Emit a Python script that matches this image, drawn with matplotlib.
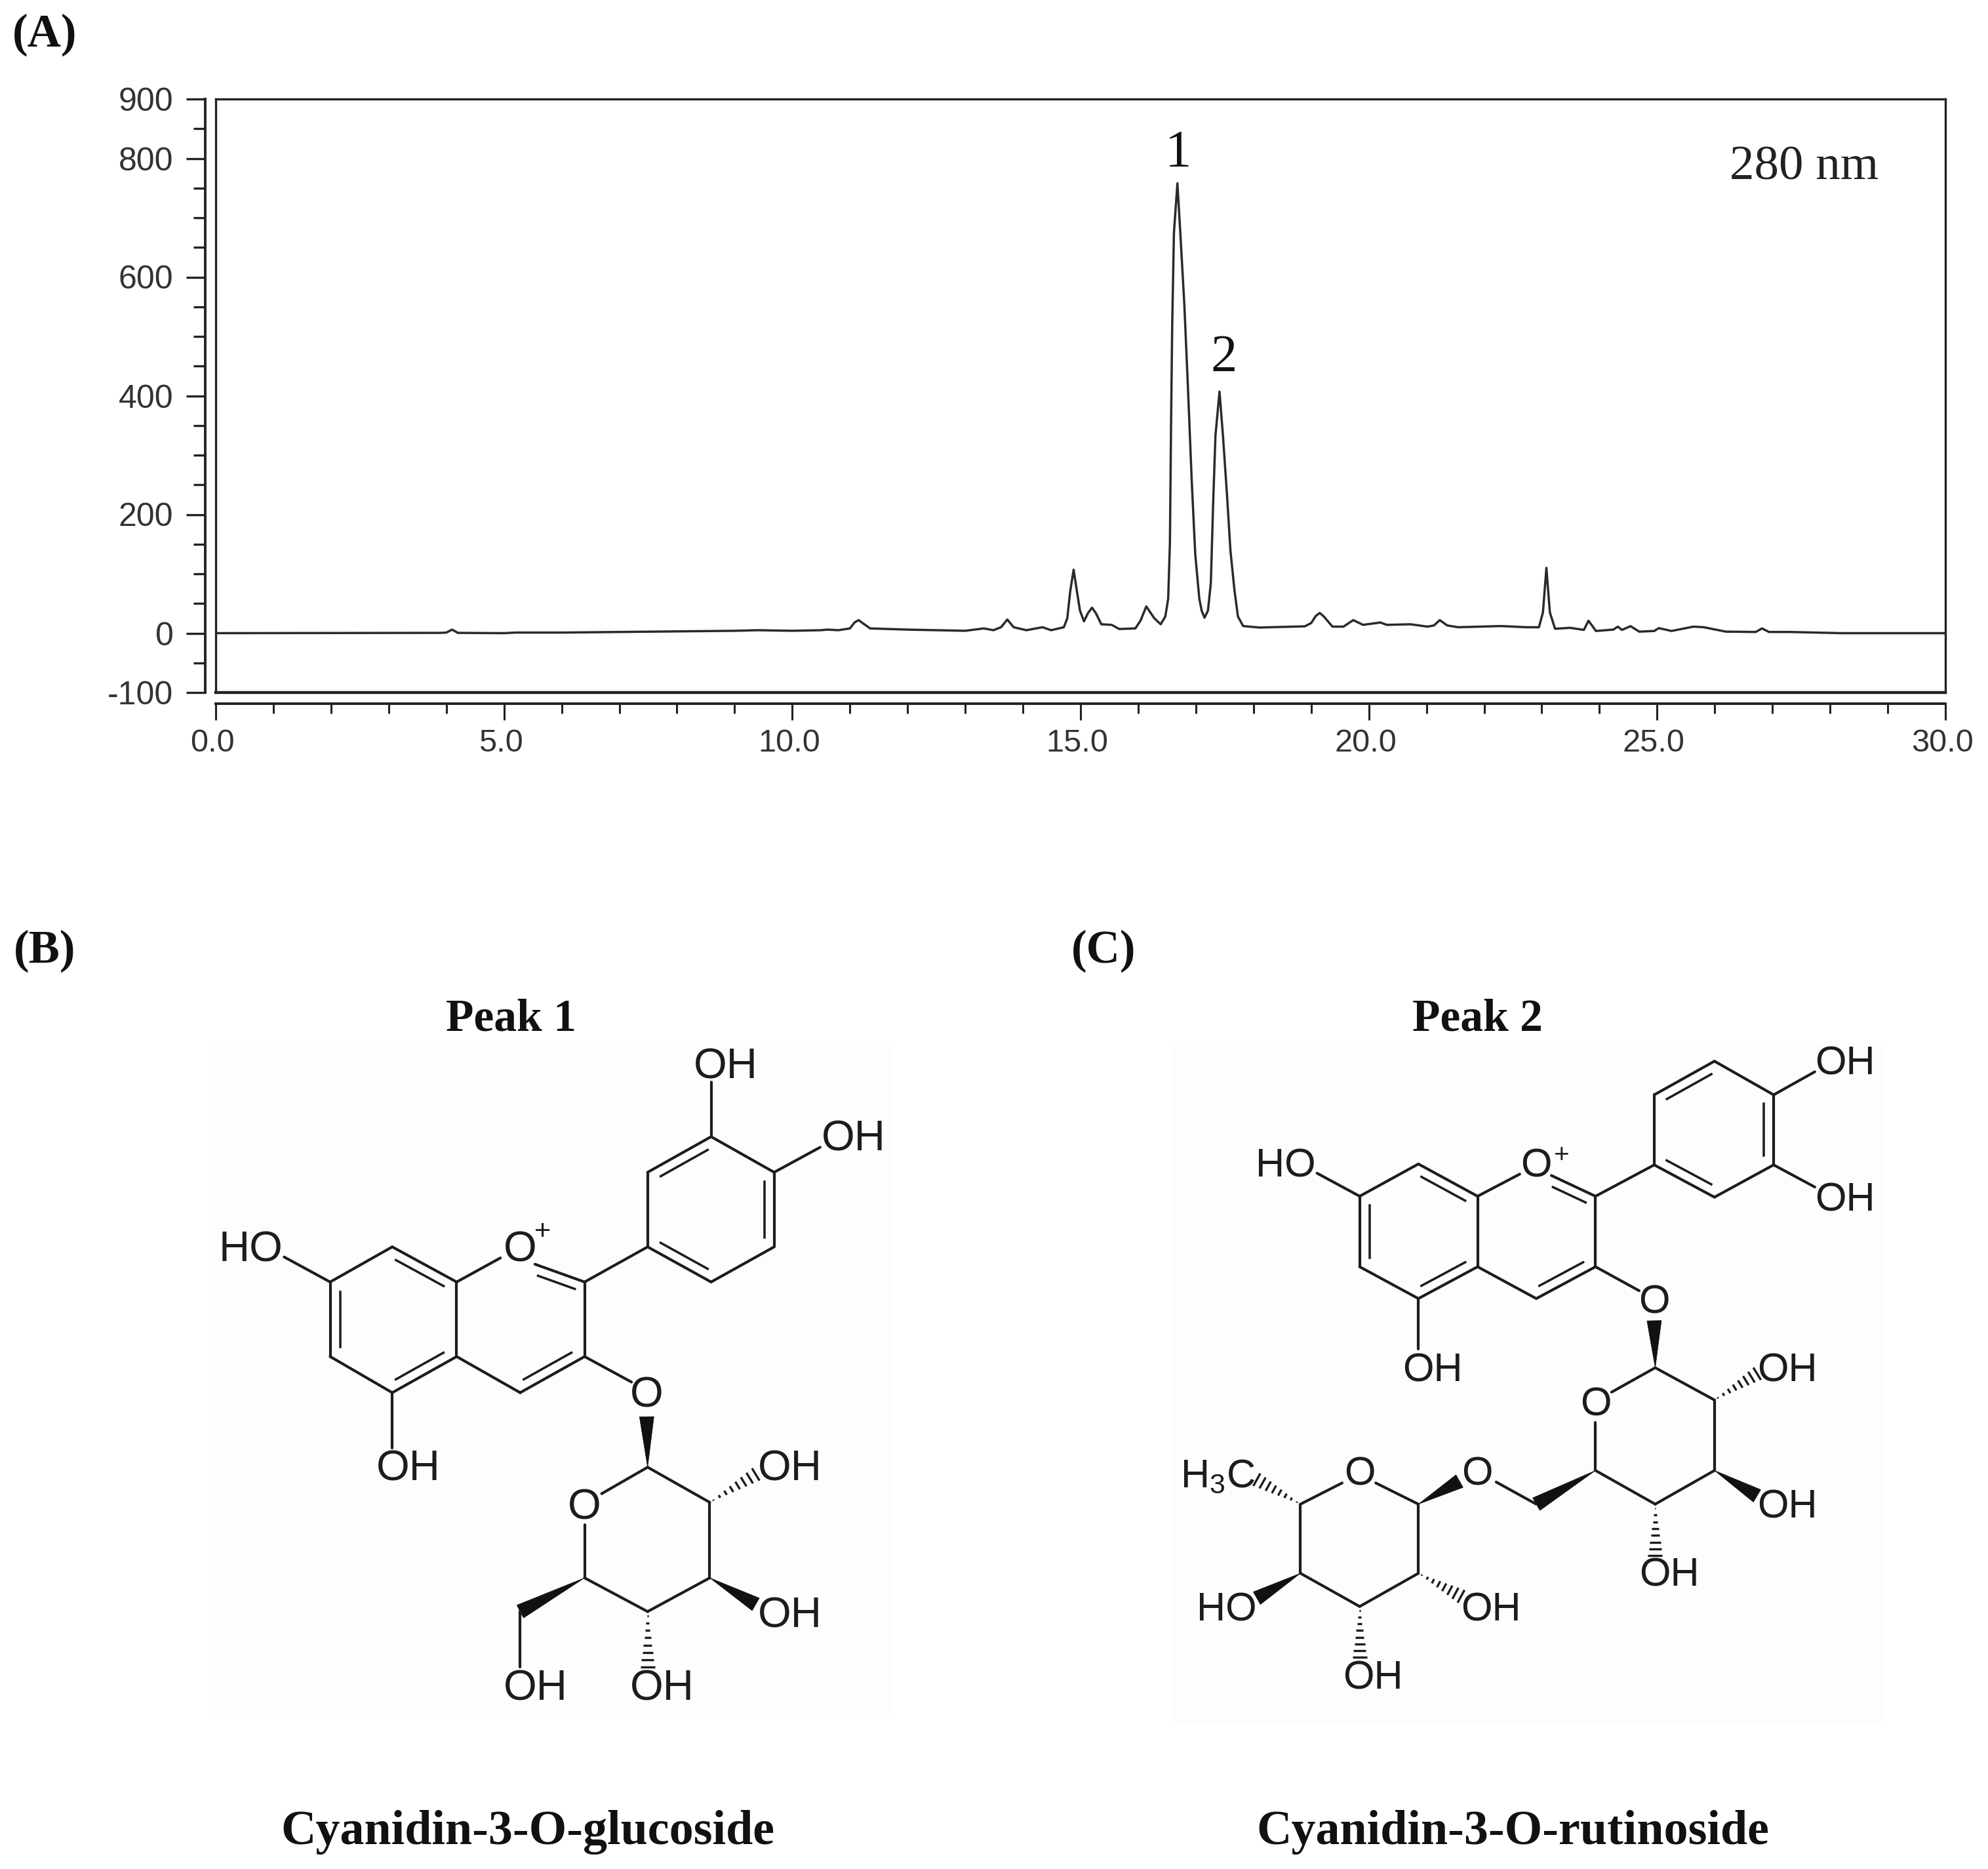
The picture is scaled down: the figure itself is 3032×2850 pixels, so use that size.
import matplotlib
matplotlib.use("Agg")
import matplotlib.pyplot as plt
import numpy as np
from matplotlib.patches import Polygon, Rectangle
from matplotlib.transforms import ScaledTranslation

plt.rcParams['mathtext.default'] = 'regular'
W, H = 3032, 2850
SANS = 'Liberation Sans'
SERIF = 'Liberation Serif'
INK = '#1c1c1c'

# ---------- chromatogram data ----------
trace_time = [0, 3.9, 4.0, 4.1, 4.2, 5.0, 5.2, 6.0, 7.0, 8.0, 9.0, 9.4, 10.0, 10.5, 10.6, 10.8, 11.0, 11.08, 11.15, 11.22,
              11.35, 12.0, 13.0, 13.32, 13.49, 13.62, 13.68, 13.73, 13.78, 13.84, 14.06, 14.34, 14.49, 14.71, 14.77, 14.82,
              14.88, 14.93, 14.99, 15.06, 15.13, 15.20, 15.27, 15.36, 15.54, 15.67, 15.95, 16.04, 16.14, 16.28, 16.39, 16.47,
              16.52, 16.55, 16.57, 16.59, 16.62, 16.68, 16.73, 16.80, 16.86, 16.93, 16.99, 17.06, 17.10, 17.15, 17.21,
              17.26, 17.30, 17.34, 17.41, 17.47, 17.54, 17.60, 17.67, 17.73, 17.82, 18.1, 18.89, 19.0, 19.08, 19.15, 19.22, 19.37, 19.56,
              19.73, 19.9, 20.2, 20.31, 20.72, 21.02, 21.13, 21.23, 21.36, 21.55, 22.29, 22.74, 22.95,
              23.02, 23.08, 23.14, 23.23, 23.49, 23.73, 23.81, 23.94, 24.24, 24.32, 24.39, 24.54, 24.69,
              24.95, 25.03, 25.25, 25.63, 25.81, 26.19, 26.71, 26.82, 26.94, 27.3, 28.2, 30.0]
trace_signal = [0, 0.5, 1, 6, 0.5, 0, 1, 1, 2, 3, 4, 5, 4, 5, 6, 5, 8, 18, 22, 17,
                8, 6, 4, 8, 5, 10, 17, 23, 17, 10, 5, 10, 5, 10, 25, 70,
                107, 75, 38, 20, 34, 43, 33, 15, 14, 7, 8, 21, 45, 25, 15, 28,
                58, 152, 353, 520, 675, 758, 675, 554, 420, 253, 132, 58, 38, 26, 38,
                85, 219, 333, 407, 333, 233, 139, 72, 28, 12, 9.5, 11.5, 17, 29, 34, 28, 11, 11,
                22, 14, 18, 14, 15, 11, 13, 22, 13, 10, 12, 10, 10,
                35, 110, 35, 7.4, 9, 5.5, 21, 3.7, 6, 11, 5.5, 11.8, 2.6,
                3.7, 8.5, 3.7, 11, 10, 2.6, 2, 8, 2, 2, 0, 0]

x_major = [0, 5, 10, 15, 20, 25, 30]
x_major_labels = ['0.0', '5.0', '10.0', '15.0', '20.0', '25.0', '30.0']
x_minor = [v for v in range(31) if v % 5]
y_major = [-100, 0, 200, 400, 600, 800, 900]
y_minor = [-50, 50, 100, 150, 250, 300, 350, 450, 500, 550, 650, 700, 750, 850]

# ---------- figure ----------
fig = plt.figure(figsize=(W / 100, H / 100), dpi=100, facecolor='white')
L, R, T, B = 329, 2967, 151, 1056
ax = fig.add_axes([L / W, 1 - B / H, (R - L) / W, (B - T) / H])
ax.set_xlim(0, 30)
ax.set_ylim(-100, 900)
ax.plot(trace_time, trace_signal, color='#2a2a2a', lw=2.5, solid_joinstyle='round')
ax.set_xticks([]); ax.set_yticks([])
for s in ax.spines.values():
    s.set_linewidth(2.4); s.set_color('#222222')
ax.spines['bottom'].set_linewidth(3.2)

sy = ax.secondary_yaxis(-16 / (R - L))
sy.set_yticks(y_major); sy.set_yticklabels([str(v) for v in y_major])
sy.set_yticks(y_minor, minor=True)
sy.tick_params(axis='y', which='major', length=21, width=2.4, color='#222222', pad=14,
               labelsize=36, labelcolor='#333333')
sy.tick_params(axis='y', which='minor', length=13, width=2.4, color='#222222')
sx = ax.secondary_xaxis(-17 / (B - T))
sx.set_xticks(x_major); sx.set_xticklabels(x_major_labels)
sx.set_xticks(x_minor, minor=True)
sx.tick_params(axis='x', which='major', length=18, width=2.2, color='#222222', pad=9,
               labelsize=35, labelcolor='#333333')
sx.tick_params(axis='x', which='minor', length=11, width=2.2, color='#222222')
for sec, side in ((sy, 'left'), (sx, 'bottom')):
    sec.spines[side].set_linewidth(2.8); sec.spines[side].set_color('#222222')
for t in sy.get_yticklabels():
    t.set_fontfamily(SANS)
shift = ScaledTranslation(-5 / 100, 0, fig.dpi_scale_trans)
for t in sx.get_xticklabels():
    t.set_fontfamily(SANS)
    t.set_transform(t.get_transform() + shift)

# overlay in pixel coordinates for text and the structural formulae
ov = fig.add_axes([0, 0, 1, 1], facecolor='none')
ov.set_xlim(0, W); ov.set_ylim(H, 0); ov.axis('off')

def txt(x, y, s, size, family=SERIF, weight='normal', color='#111111'):
    ov.text(x, y + 3, s, fontsize=size, family=family, weight=weight, color=color, ha='center', va='center')

txt(1797, 231, '1', 58)
txt(1867, 543, '2', 58)
txt(2752, 253, '280 nm', 54, color='#222222')
for label, x, y in (('(A)', 68, 50), ('(B)', 68, 1447), ('(C)', 1683, 1447)):
    txt(x, y, label, 51, weight='bold')
txt(779, 1551, 'Peak 1', 50, weight='bold')
txt(2253, 1551, 'Peak 2', 50, weight='bold')
txt(805, 2791, 'Cyanidin-3-O-glucoside', 53.3, weight='bold')
txt(2307, 2791, 'Cyanidin-3-O-rutinoside', 53.3, weight='bold')

# ---------- structural formula helpers ----------
def mapper(x0, y0, sx_, sy_):
    return lambda p: (x0 + p[0] / sx_, y0 + p[1] / sy_)

def draw_mol(m, singles, doubles, wedges, hashes, labels, fs, plus):
    lw = 3.0
    for a, b in singles:
        pa, pb = m(a), m(b)
        ov.plot([pa[0], pb[0]], [pa[1], pb[1]], color=INK, lw=lw, solid_capstyle='round')
    for a, b, c in doubles:
        pa, pb, pc = map(np.array, (m(a), m(b), m(c)))
        ov.plot([pa[0], pb[0]], [pa[1], pb[1]], color=INK, lw=lw, solid_capstyle='round')
        d = pb - pa
        n = np.array([-d[1], d[0]]) / np.hypot(*d)
        if np.dot(n, pc - pa) < 0:
            n = -n
        q1 = pa + 0.13 * d + 15 * n
        q2 = pb - 0.13 * d + 15 * n
        ov.plot([q1[0], q2[0]], [q1[1], q2[1]], color=INK, lw=lw * 0.85)
    for tip, base in wedges:
        pt, pb = np.array(m(tip)), np.array(m(base))
        d = pb - pt
        n = np.array([-d[1], d[0]]) / np.hypot(*d)
        ov.add_patch(Polygon([pt, pb + 11 * n, pb - 11 * n], closed=True, fc='#111111', ec='#111111', lw=0.5))
    for tip, base in hashes:
        pt, pb = np.array(m(tip)), np.array(m(base))
        d = pb - pt
        n = np.array([-d[1], d[0]]) / np.hypot(*d)
        for f in np.linspace(0.08, 1, 8):
            c = pt + f * d
            h = 11 * f
            ov.plot([c[0] - h * n[0], c[0] + h * n[0]], [c[1] - h * n[1], c[1] + h * n[1]],
                    color=INK, lw=2.4, solid_capstyle='butt')
    for p, s in labels:
        q = m(p)
        txt(q[0], q[1], s, fs, family=SANS, color=INK)
    q = m(plus)
    txt(q[0], q[1], '+', fs * 0.66, family=SANS, color=INK)

# ---------- peak 1 : cyanidin-3-O-glucoside (crop coordinates) ----------
ov.add_patch(Rectangle((318, 1590), 1045, 1030, fc='#fdfdfd', ec='none', zorder=0))
a1, a2, a3, a4, a5, a6 = (290, 620), (425, 547), (565, 620), (565, 775), (425, 850), (290, 775)
c2, c3, c4 = (843, 620), (843, 775), (703, 850)
b1, b2, b3, b4, b5, b6 = (980, 547), (980, 392), (1118, 318), (1255, 392), (1255, 547), (1118, 620)
s1, s2, s3, s4, s5 = (980, 1005), (1115, 1078), (1115, 1235), (980, 1305), (843, 1235)
ch2 = (703, 1305)
draw_mol(
    mapper(300, 1500, 1.425, 1.363),
    singles=[(a1, a2), (a3, a4), (a5, a6), (a3, (660, 570)), (c2, c3), (c4, a4), (c2, b1), (b1, b2), (b3, b4),
             (b5, b6), (b3, (1118, 205)), (b4, (1355, 340)), (a1, (190, 568)), (a5, (425, 965)),
             (c3, (945, 828)), (s1, s2), (s2, s3), (s3, s4), (s4, s5), (s5, (843, 1125)), ((880, 1060), s1),
             (ch2, (703, 1420))],
    doubles=[(a2, a3, (425, 700)), (a4, a5, (425, 700)), (a6, a1, (425, 700)), ((735, 583), c2, (703, 700)),
             (c3, c4, (703, 700)), (b2, b3, (1118, 470)), (b4, b5, (1118, 470)), (b6, b1, (1118, 470))],
    wedges=[(s1, (978, 900)), (s3, (1215, 1290)), (s5, ch2)],
    hashes=[(s2, (1215, 1020)), (s4, (980, 1420))],
    labels=[((703, 550), 'O'), ((1150, 170), 'OH'), ((1427, 320), 'OH'), ((118, 550), 'HO'), ((460, 1005), 'OH'),
            ((978, 853), 'O'), ((843, 1085), 'O'), ((1290, 1005), 'OH'), ((1290, 1310), 'OH'),
            ((1012, 1462), 'OH'), ((737, 1462), 'OH')],
    fs=47, plus=(752, 512))

# ---------- peak 2 : cyanidin-3-O-rutinoside (crop coordinates) ----------
ov.add_patch(Rectangle((1790, 1590), 1085, 1040, fc='#fdfdfd', ec='none', zorder=0))
a1, a2, a3, a4, a5, a6 = (423, 390), (540, 320), (658, 390), (658, 543), (540, 612), (423, 543)
c2, c3, c4 = (893, 390), (893, 543), (775, 612)
b1, b2, b3, b4, b5, b6 = (1010, 322), (1010, 170), (1130, 97), (1248, 170), (1248, 322), (1130, 392)
s1, s2, s3, s4, s5 = (1012, 762), (1130, 832), (1130, 985), (1012, 1058), (893, 985)
ch2 = (775, 1058)
r1, r2, r3, r4, r5 = (540, 1058), (540, 1208), (423, 1280), (305, 1208), (305, 1058)
draw_mol(
    mapper(1750, 1550, 1.3067, 1.4227),
    singles=[(a1, a2), (a3, a4), (a5, a6), (a3, (742, 342)), (c2, c3), (c4, a4), (c2, b1), (b1, b2), (b3, b4),
             (b5, b6), (b4, (1330, 120)), (b5, (1330, 370)), (a1, (338, 340)), (a5, (540, 722)),
             (c3, (980, 595)), (s1, s2), (s2, s3), (s3, s4), (s4, s5), (s5, (893, 880)), ((925, 815), s1),
             (ch2, (695, 1010)), ((455, 1012), r1), (r1, r2), (r2, r3), (r3, r4), (r4, r5), (r5, (388, 1012))],
    doubles=[(a2, a3, (540, 465)), (a4, a5, (540, 465)), (a6, a1, (540, 465)), ((805, 345), c2, (775, 465)),
             (c3, c4, (775, 465)), (b2, b3, (1130, 245)), (b4, b5, (1130, 245)), (b6, b1, (1130, 245))],
    wedges=[(s1, (1010, 660)), (s3, (1215, 1040)), (s5, ch2), (r1, (622, 1008)), (r4, (218, 1262))],
    hashes=[(s2, (1215, 775)), (s4, (1012, 1170)), (r5, (218, 1005)), (r2, (625, 1258)), (r3, (423, 1390))],
    labels=[((775, 322), 'O'), ((1390, 100), 'OH'), ((1390, 395), 'OH'), ((275, 322), 'HO'), ((568, 765), 'OH'),
            ((1010, 618), 'O'), ((893, 840), 'O'), ((1275, 765), 'OH'), ((1275, 1062), 'OH'),
            ((1040, 1210), 'OH'), ((657, 990), 'O'), ((423, 990), 'O'), ((140, 995), 'H$_3$C'),
            ((158, 1285), 'HO'), ((685, 1285), 'OH'), ((450, 1432), 'OH')],
    fs=44, plus=(825, 297))

fig.savefig('out.png', dpi=100, facecolor='white')
